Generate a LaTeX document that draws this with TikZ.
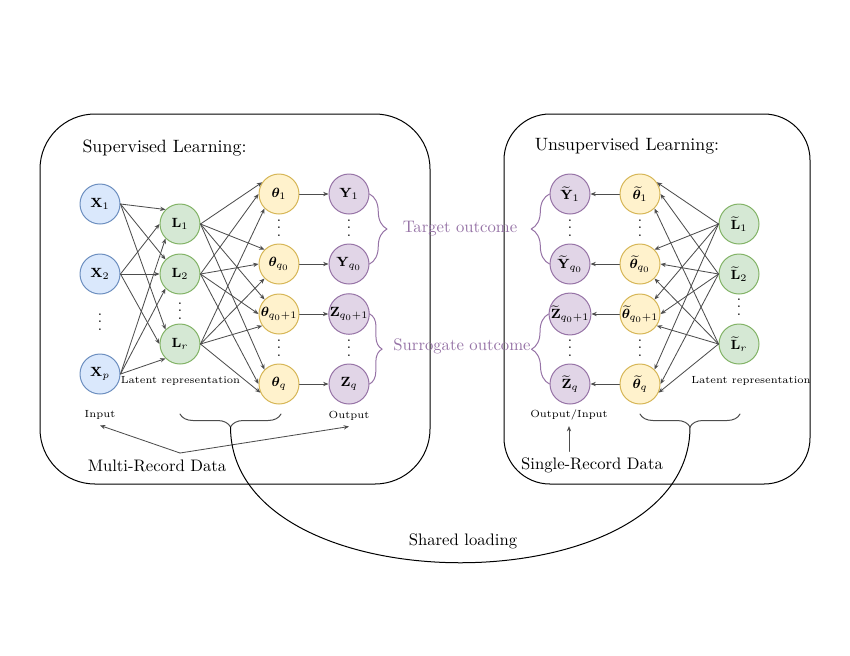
\documentclass[tikz,border=0pt]{standalone}
\usepackage{amsmath,amssymb,bm}
\usetikzlibrary{arrows.meta,decorations.pathreplacing}
\definecolor{inblue}{HTML}{DAE8FC}
\definecolor{inblueline}{HTML}{6C8EBF}
\definecolor{latgreen}{HTML}{D5E8D4}
\definecolor{latgreenline}{HTML}{82B366}
\definecolor{paryellow}{HTML}{FFF2CC}
\definecolor{paryellowline}{HTML}{D6B656}
\definecolor{outpurple}{HTML}{E1D5E7}
\definecolor{outpurpleline}{HTML}{9673A6}
\definecolor{edgegray}{HTML}{4D4D4D}
\newcommand{\vdotz}{\vbox{\baselineskip4.5pt\lineskiplimit0pt\hbox{.}\hbox{.}\hbox{.}}}

\begin{document}
\begin{tikzpicture}[line cap=round,line join=round,x=0.6pt,y=-0.6pt,
  neuron/.style={circle,draw,line width=0.6pt,minimum size=24pt,inner sep=0pt,font=\fontsize{8}{10}\selectfont},
  xnode/.style={neuron,draw=inblueline,fill=inblue},
  lnode/.style={neuron,draw=latgreenline,fill=latgreen},
  thnode/.style={neuron,draw=paryellowline,fill=paryellow},
  ynode/.style={neuron,draw=outpurpleline,fill=outpurple},
  dotz/.style={inner sep=0pt,font=\fontsize{9}{10}\selectfont},
  arr/.style={-{Stealth[length=3.2pt,width=2.6pt]},draw=edgegray,line width=0.5pt},
  pbrace/.style={decorate,draw=outpurpleline,line width=0.6pt},
  gbrace/.style={decorate,decoration={brace,amplitude=7.8pt},draw=edgegray,line width=0.6pt},
  title/.style={font=\fontsize{10.7}{13}\selectfont},
  plain/.style={font=\fontsize{10}{12}\selectfont},
  smalltext/.style={font=\fontsize{6.2}{7.5}\selectfont},
  purpletext/.style={font=\fontsize{10}{12}\selectfont,text=outpurpleline}]
\useasboundingbox (0,0) rectangle (850,655);

% boxes
\draw [line width=0.6pt,rounded corners=33pt] (40,114) rectangle (430,484);
\draw [line width=0.6pt,rounded corners=27.6pt] (504,114) rectangle (810,484);
\node[title] (suptitle) at (164.5,148) {Supervised Learning:};
\node[title] (unsuptitle) at (627,146) {Unsupervised Learning:};

% supervised network
\node[xnode] (X1) at (100,204) {$\mathbf{X}_1$};
\node[xnode] (X2) at (100,274) {$\mathbf{X}_2$};
\node[dotz] (Xd) at (100,322) {\vdotz};
\node[xnode] (Xp) at (100,374) {$\mathbf{X}_p$};

\node[lnode] (L1) at (180,224) {$\mathbf{L}_1$};
\node[lnode] (L2) at (180,274) {$\mathbf{L}_2$};
\node[dotz] (Ld) at (180,311) {\vdotz};
\node[lnode] (Lr) at (180,344) {$\mathbf{L}_r$};

\node[thnode] (th1) at (279,194) {$\bm{\theta}_1$};
\node[dotz] (thda) at (279,228) {\vdotz};
\node[thnode] (thq0) at (279,264) {$\bm{\theta}_{q_0}$};
\node[thnode] (thq01) at (279,314) {$\bm{\theta}_{q_0+1}$};
\node[dotz] (thdb) at (279,348) {\vdotz};
\node[thnode] (thq) at (279,384) {$\bm{\theta}_q$};

\node[ynode] (Y1) at (349,194) {$\mathbf{Y}_1$};
\node[dotz] (Yd) at (349,228) {\vdotz};
\node[ynode] (Yq0) at (349,264) {$\mathbf{Y}_{q_0}$};
\node[ynode] (Zq01) at (349,314) {$\mathbf{Z}_{q_0+1}$};
\node[dotz] (Zd) at (349,348) {\vdotz};
\node[ynode] (Zq) at (349,384) {$\mathbf{Z}_q$};

\draw[arr] (X1.east) -- (L1.135);
\draw[arr] (X1.east) -- (L2.135);
\draw[arr] (X1.east) -- (Lr.135);
\draw[arr] (X2.east) -- (L1.180);
\draw[arr] (X2.east) -- (L2.180);
\draw[arr] (X2.east) -- (Lr.180);
\draw[arr] (Xp.east) -- (L1.225);
\draw[arr] (Xp.east) -- (L2.225);
\draw[arr] (Xp.east) -- (Lr.225);

\draw[arr] (L1.east) -- (th1.145);
\draw[arr] (L1.east) -- (thq0.135);
\draw[arr] (L1.east) -- (thq01.135);
\draw[arr] (L1.east) -- (thq.135);
\draw[arr] (L2.east) -- (th1.180);
\draw[arr] (L2.east) -- (thq0.180);
\draw[arr] (L2.east) -- (thq01.180);
\draw[arr] (L2.east) -- (thq.180);
\draw[arr] (Lr.east) -- (th1.225);
\draw[arr] (Lr.east) -- (thq0.225);
\draw[arr] (Lr.east) -- (thq01.215);
\draw[arr] (Lr.east) -- (thq.205);

\draw[arr] (th1) -- (Y1);
\draw[arr] (thq0) -- (Yq0);
\draw[arr] (thq01) -- (Zq01);
\draw[arr] (thq) -- (Zq);

% unsupervised network
\node[ynode] (Yt1) at (570,194) {$\widetilde{\mathbf{Y}}_1$};
\node[dotz] (Ytd) at (570,228) {\vdotz};
\node[ynode] (Ytq0) at (570,264) {$\widetilde{\mathbf{Y}}_{q_0}$};
\node[ynode] (Ztq01) at (570,314) {$\widetilde{\mathbf{Z}}_{q_0+1}$};
\node[dotz] (Ztd) at (570,348) {\vdotz};
\node[ynode] (Ztq) at (570,384) {$\widetilde{\mathbf{Z}}_q$};

\node[thnode] (tht1) at (640,194) {$\widetilde{\bm{\theta}}_1$};
\node[dotz] (thtda) at (640,228) {\vdotz};
\node[thnode] (thtq0) at (640,264) {$\widetilde{\bm{\theta}}_{q_0}$};
\node[thnode] (thtq01) at (640,314) {$\widetilde{\bm{\theta}}_{q_0+1}$};
\node[dotz] (thtdb) at (640,348) {\vdotz};
\node[thnode] (thtq) at (640,384) {$\widetilde{\bm{\theta}}_q$};

\node[lnode] (Lt1) at (739,224) {$\widetilde{\mathbf{L}}_1$};
\node[lnode] (Lt2) at (739,274) {$\widetilde{\mathbf{L}}_2$};
\node[dotz] (Ltd) at (739,307) {\vdotz};
\node[lnode] (Ltr) at (739,344) {$\widetilde{\mathbf{L}}_r$};

\draw[arr] (Lt1.west) -- (tht1.35);
\draw[arr] (Lt1.west) -- (thtq0.45);
\draw[arr] (Lt1.west) -- (thtq01.45);
\draw[arr] (Lt1.west) -- (thtq.45);
\draw[arr] (Lt2.west) -- (tht1.0);
\draw[arr] (Lt2.west) -- (thtq0.0);
\draw[arr] (Lt2.west) -- (thtq01.0);
\draw[arr] (Lt2.west) -- (thtq.0);
\draw[arr] (Ltr.west) -- (tht1.-45);
\draw[arr] (Ltr.west) -- (thtq0.-45);
\draw[arr] (Ltr.west) -- (thtq01.-35);
\draw[arr] (Ltr.west) -- (thtq.-25);

\draw[arr] (tht1) -- (Yt1);
\draw[arr] (thtq0) -- (Ytq0);
\draw[arr] (thtq01) -- (Ztq01);
\draw[arr] (thtq) -- (Ztq);

% outcome braces
\draw[pbrace,decoration={brace,amplitude=10.5pt}] (Y1.east) -- (Yq0.east);
\draw[pbrace,decoration={brace,amplitude=7.5pt}] (Zq01.east) -- (Zq.east);
\draw[pbrace,decoration={brace,amplitude=11pt}] (Ytq0.west) -- (Yt1.west);
\draw[pbrace,decoration={brace,amplitude=10.5pt}] (Ztq.west) -- (Ztq01.west);
\node[purpletext] (target) at (460,229) {Target outcome};
\node[purpletext] (surr) at (462,346) {Surrogate outcome};

% labels
\node[smalltext] (latL) at (180.5,381) {Latent representation};
\node[smalltext] (latR) at (751,381) {Latent representation};
\node[smalltext] (inlab) at (100,415) {Input};
\node[smalltext] (outlab) at (349,416) {Output};
\node[smalltext] (oilab) at (569,415) {Output/Input};
\node[plain] (mrd) at (157,466) {Multi-Record Data};
\node[plain] (srd) at (592,465) {Single-Record Data};

\coordinate (mrdtop) at (180,453);
\draw[arr] (mrdtop) -- (inlab.south);
\draw[arr] (mrdtop) -- (outlab.south);
\draw[arr] (srd.north -| oilab.south) -- (oilab.south);

% shared loading
\draw[gbrace] (281,414) -- (180,414);
\draw[gbrace] (740,414) -- (640,414);
\coordinate (bl) at (230.5,427);
\coordinate (br) at (690,427);
\draw[line width=0.6pt] (bl) .. controls (231,608) and (690,608) .. (br);
\node[plain] (shared) at (463,541) {Shared loading};
\end{tikzpicture}
\end{document}
